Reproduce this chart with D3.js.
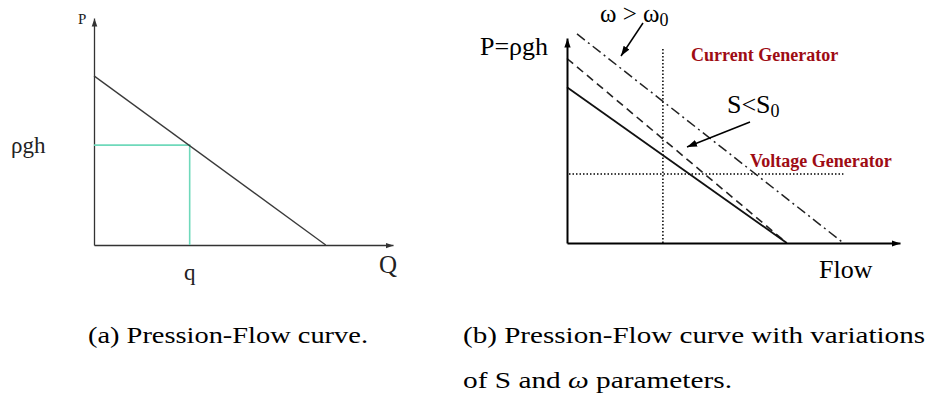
<!DOCTYPE html>
<html>
<head>
<meta charset="utf-8">
<script src="https://cdn.jsdelivr.net/npm/d3@7/dist/d3.min.js"></script>
<style>
  html, body { margin: 0; padding: 0; background: #fff; }
  svg { display: block; }
</style>
</head>
<body>
<svg id="fig" width="927" height="401"></svg>
<script>
// ---- Panel (a): single pressure-flow characteristic ----
const curveA = [{ q: 0, p: 7.45 }, { q: 7.75, p: 0 }];
const operatingQ = [3.2];
const operatingP = [4.4];

// ---- Panel (b): characteristic families ----
const nominalCurve = [{ q: 0, p: 7.6 }, { q: 6.6, p: 0 }];      // solid
const reducedSCurve = [{ q: 0, p: 9.0 }, { q: 6.6, p: 0 }];     // dashed, S < S0
const higherOmegaCurve = [{ q: 0.3, p: 10.2 }, { q: 8.3, p: 0 }]; // dash-dot, w > w0
const currentGenQ = [2.88];        // vertical dotted line
const currentGenTop = [9.46];
const voltageGenP = [3.37];        // horizontal dotted line
const voltageGenSpan = [0.06, 8.3];

const captions = [
  "(a) Pression-Flow curve.",
  "(b) Pression-Flow curve with variations"
];

const SERIF = "'Liberation Serif', 'Times New Roman', Times, serif";
const svg = d3.select("#fig").attr("font-family", SERIF);
const defs = svg.append("defs");

function arrowMarker(id, size, color) {
  defs.append("marker")
    .attr("id", id)
    .attr("viewBox", "0 0 10 10")
    .attr("refX", 10).attr("refY", 5)
    .attr("markerUnits", "userSpaceOnUse")
    .attr("markerWidth", size).attr("markerHeight", size)
    .attr("orient", "auto")
    .append("path")
    .attr("d", "M0,1.5 L10,5 L0,8.5 Z")
    .attr("fill", color);
}
arrowMarker("arrA", 8, "#333");
arrowMarker("arrB", 9, "#000");
arrowMarker("arrNote", 10, "#000");

// ================= Panel (a) =================
const xA = d3.scaleLinear().domain([0, 10]).range([94, 393]);
const yA = d3.scaleLinear().domain([0, 10]).range([245, 18]);
const gA = svg.append("g");

const axA_x = gA.append("g").attr("transform", `translate(0,${yA(0)})`)
  .call(d3.axisBottom(xA).tickValues([]).tickSizeOuter(0));
const axA_y = gA.append("g").attr("transform", `translate(${xA(0)},0)`)
  .call(d3.axisLeft(yA).tickValues([]).tickSizeOuter(0));
[axA_x, axA_y].forEach(a => a.select(".domain")
  .attr("stroke", "#333").attr("stroke-width", 1.3)
  .attr("marker-end", "url(#arrA)"));

const lineA = d3.line().x(d => xA(d.q)).y(d => yA(d.p));

// operating point guides (green)
gA.append("path")
  .attr("d", lineA([{ q: 0, p: operatingP[0] }, { q: operatingQ[0], p: operatingP[0] }, { q: operatingQ[0], p: 0 }]))
  .attr("fill", "none").attr("stroke", "#6fd9bb").attr("stroke-width", 1.6);

gA.append("path")
  .attr("d", lineA(curveA))
  .attr("fill", "none").attr("stroke", "#3a3a3a").attr("stroke-width", 1.3);

gA.append("text").attr("x", 78).attr("y", 24)
  .attr("font-size", 15).attr("fill", "#222").text("P");
gA.append("text").attr("x", 11).attr("y", yA(operatingP[0]) + 8)
  .attr("font-size", 23).attr("fill", "#222").text("ρgh");
gA.append("text").attr("x", xA(operatingQ[0])).attr("y", 280)
  .attr("text-anchor", "middle")
  .attr("font-size", 23).attr("fill", "#222").text("q");
gA.append("text").attr("x", 379).attr("y", 273)
  .attr("font-size", 25).attr("fill", "#222").text("Q");

// ================= Panel (b) =================
const xB = d3.scaleLinear().domain([0, 10]).range([567, 900]);
const yB = d3.scaleLinear().domain([0, 10]).range([243, 38]);
const gB = svg.append("g");
const lineB = d3.line().x(d => xB(d.q)).y(d => yB(d.p));

// dotted generator guides
gB.append("path")
  .attr("d", lineB([{ q: currentGenQ[0], p: currentGenTop[0] }, { q: currentGenQ[0], p: 0 }]))
  .attr("stroke", "#000").attr("stroke-width", 1.5).attr("stroke-dasharray", "1.5,2");
gB.append("path")
  .attr("d", lineB([{ q: voltageGenSpan[0], p: voltageGenP[0] }, { q: voltageGenSpan[1], p: voltageGenP[0] }]))
  .attr("stroke", "#000").attr("stroke-width", 1.5).attr("stroke-dasharray", "1.5,2");

gB.append("path").attr("d", lineB(higherOmegaCurve))
  .attr("fill", "none").attr("stroke", "#222").attr("stroke-width", 1.5)
  .attr("stroke-dasharray", "10,4,2,4");
gB.append("path").attr("d", lineB(reducedSCurve))
  .attr("fill", "none").attr("stroke", "#222").attr("stroke-width", 1.6)
  .attr("stroke-dasharray", "8,5");
gB.append("path").attr("d", lineB(nominalCurve))
  .attr("fill", "none").attr("stroke", "#111").attr("stroke-width", 1.8);

const axB_x = gB.append("g").attr("transform", `translate(0,${yB(0)})`)
  .call(d3.axisBottom(xB).tickValues([]).tickSizeOuter(0));
const axB_y = gB.append("g").attr("transform", `translate(${xB(0)},0)`)
  .call(d3.axisLeft(yB).tickValues([]).tickSizeOuter(0));
[axB_x, axB_y].forEach(a => a.select(".domain")
  .attr("stroke", "#000").attr("stroke-width", 2)
  .attr("marker-end", "url(#arrB)"));

// annotation arrows
gB.append("line").attr("x1", 643).attr("y1", 23).attr("x2", 621).attr("y2", 56)
  .attr("stroke", "#000").attr("stroke-width", 1.5).attr("marker-end", "url(#arrNote)");
gB.append("line").attr("x1", 750).attr("y1", 122).attr("x2", 687).attr("y2", 147)
  .attr("stroke", "#000").attr("stroke-width", 1.5).attr("marker-end", "url(#arrNote)");

// labels
gB.append("text").attr("x", 480).attr("y", 55).attr("font-size", 26).text("P=ρgh");
const om = gB.append("text").attr("x", 600).attr("y", 22).attr("font-size", 25);
om.append("tspan").text("ω > ω");
om.append("tspan").attr("font-size", 18).attr("dy", 4).text("0");
const ss = gB.append("text").attr("x", 727).attr("y", 113).attr("font-size", 26);
ss.append("tspan").text("S<S");
ss.append("tspan").attr("font-size", 18).attr("dy", 4).text("0");
gB.append("text").attr("x", 691).attr("y", 61).attr("font-size", 18)
  .attr("font-weight", "bold").attr("fill", "#9e0c14").text("Current Generator");
gB.append("text").attr("x", 750).attr("y", 167).attr("font-size", 18)
  .attr("font-weight", "bold").attr("fill", "#9e0c14").text("Voltage Generator");
gB.append("text").attr("x", 819).attr("y", 278).attr("font-size", 26).text("Flow");

// ================= Captions =================
const capFont = 24;
svg.append("text").attr("x", 88).attr("y", 343).attr("font-size", capFont)
  .attr("textLength", 280).attr("lengthAdjust", "spacingAndGlyphs").text(captions[0]);
svg.append("text").attr("x", 463).attr("y", 343).attr("font-size", capFont)
  .attr("textLength", 462).attr("lengthAdjust", "spacingAndGlyphs").text(captions[1]);
const cap2 = svg.append("text").attr("x", 463).attr("y", 388).attr("font-size", capFont)
  .attr("textLength", 269).attr("lengthAdjust", "spacingAndGlyphs");
cap2.append("tspan").text("of S and ");
cap2.append("tspan").attr("font-style", "italic").text("ω");
cap2.append("tspan").text(" parameters.");

// every label uses the serif family
svg.selectAll("text").attr("font-family", SERIF);
</script>
</body>
</html>
